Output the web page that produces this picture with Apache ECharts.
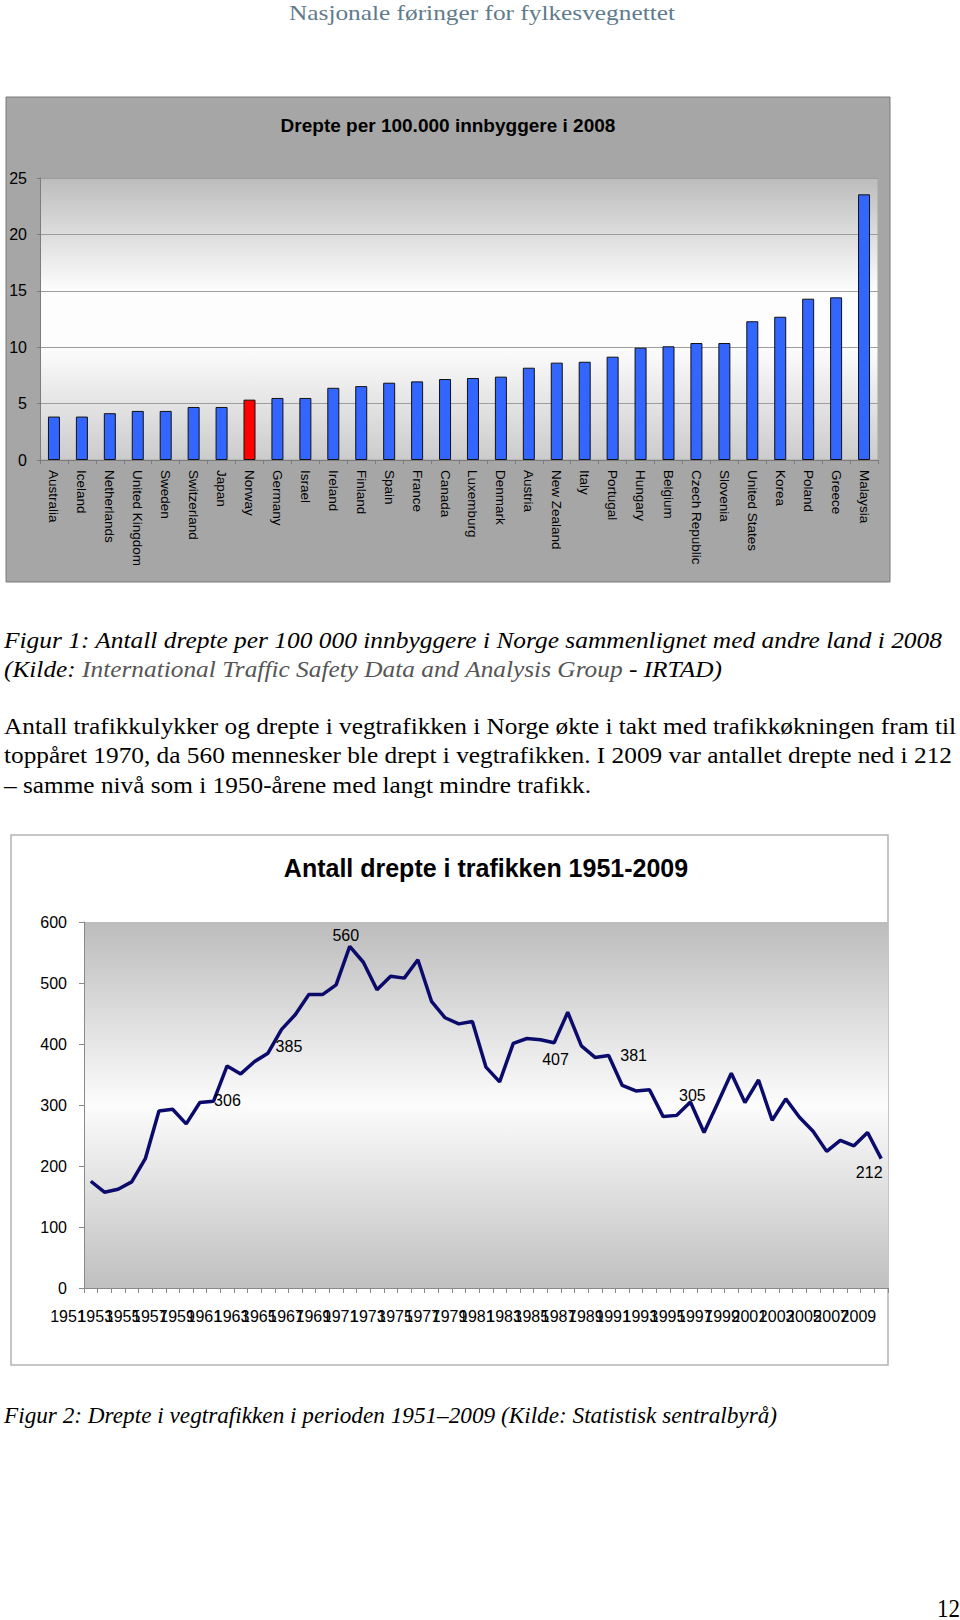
<!DOCTYPE html>
<html>
<head>
<meta charset="utf-8">
<script src="https://cdn.jsdelivr.net/npm/echarts@6/dist/echarts.min.js"></script>
<style>
  html, body { margin: 0; padding: 0; background: #fff; }
  body { position: relative; width: 960px; height: 1620px; overflow: hidden; }
  #chart { position: absolute; left: 0; top: 0; width: 960px; height: 1620px; }
  .t { position: absolute; white-space: nowrap; font-family: "Liberation Serif", "Times New Roman", serif;
       font-size: 24px; line-height: 28px; color: #000; transform-origin: 0 50%; }
  .i { font-style: italic; }
</style>
</head>
<body>
<div id="chart"></div>

<div class="t" data-w="386" style="left:289px; top:-1px; font-size:22px; color:#5f7b8c;">Nasjonale føringer for fylkesvegnettet</div>
<div class="t i" data-w="938" style="left:4px; top:626px;">Figur 1: Antall drepte per 100 000 innbyggere i Norge sammenlignet med andre land i 2008</div>
<div class="t i" data-w="718" style="left:4px; top:655px;">(Kilde: <span style="color:#555;">International Traffic Safety Data and Analysis Group</span> - IRTAD)</div>
<div class="t" data-w="952" style="left:4px; top:712px;">Antall trafikkulykker og drepte i vegtrafikken i Norge økte i takt med trafikkøkningen fram til</div>
<div class="t" data-w="948" style="left:4px; top:741px;">toppåret 1970, da 560 mennesker ble drept i vegtrafikken. I 2009 var antallet drepte ned i 212</div>
<div class="t" data-w="587" style="left:4px; top:771px;">– samme nivå som i 1950-årene med langt mindre trafikk.</div>
<div class="t i" data-w="773" style="left:4px; top:1401px;">Figur 2: Drepte i vegtrafikken i perioden 1951–2009 (Kilde: Statistisk sentralbyrå)</div>
<div class="t" data-w="23" style="left:937px; top:1595px; font-size:26px;">12</div>

<script>
// ---------- Data: chart 1 ----------
const chart1Title = 'Drepte per 100.000 innbyggere i 2008';
const countries = ['Australia','Iceland','Netherlands','United Kingdom','Sweden','Switzerland','Japan','Norway',
  'Germany','Israel','Ireland','Finland','Spain','France','Canada','Luxemburg','Denmark','Austria','New Zealand',
  'Italy','Portugal','Hungary','Belgium','Czech Republic','Slovenia','United States','Korea','Poland','Greece','Malaysia'];
const ratesPer100k = [3.85, 3.85, 4.15, 4.35, 4.35, 4.7, 4.7, 5.35, 5.5, 5.5, 6.4, 6.55, 6.85, 6.97, 7.18, 7.27,
  7.39, 8.18, 8.63, 8.71, 9.16, 9.96, 10.08, 10.37, 10.37, 12.3, 12.7, 14.3, 14.42, 23.55];
const highlightCountry = 'Norway';
const chart1Ticks = [0, 5, 10, 15, 20, 25];

// ---------- Data: chart 2 ----------
const chart2Title = 'Antall drepte i trafikken 1951-2009';
const years = ['1951','1952','1953','1954','1955','1956','1957','1958','1959','1960',
  '1961','1962','1963','1964','1965','1966','1967','1968','1969','1970',
  '1971','1972','1973','1974','1975','1976','1977','1978','1979','1980',
  '1981','1982','1983','1984','1985','1986','1987','1988','1989','1990',
  '1991','1992','1993','1994','1995','1996','1997','1998','1999','2000',
  '2001','2002','2003','2004','2005','2006','2007','2008','2009'];
const killed = [175, 157, 162, 174, 212, 290, 293, 269, 304, 306,
  364, 351, 371, 385, 424, 448, 481, 481, 497, 560,
  534, 489, 511, 508, 538, 470, 443, 433, 437, 362,
  338, 401, 409, 407, 402, 452, 397, 378, 381, 332,
  323, 325, 281, 283, 305, 255, 303, 352, 304, 341,
  275, 310, 280, 257, 224, 242, 233, 255, 212];
const labelledYears = ['1960','1964','1970','1984','1989','1995','2009'];
const chart2Ticks = [0, 100, 200, 300, 400, 500, 600];

// ---------- Styling / layout (not data) ----------
const labelOffsets = {
  '1960': [14, -1], '1964': [21, -7], '1970': [-4, -11], '1984': [15, 20],
  '1989': [25, 0], '1995': [2, -6], '2009': [-12, 14]
};
const SANS = '"Liberation Sans", Arial, Helvetica, sans-serif';
const axisGray = '#7c7c7c';

const grad1 = { type: 'linear', x: 0, y: 0, x2: 0, y2: 1, colorStops: [
  { offset: 0, color: '#bcbcbc' }, { offset: 0.4, color: '#fdfdfd' },
  { offset: 0.6, color: '#fdfdfd' }, { offset: 1, color: '#cbcbcb' } ] };
const grad2 = { type: 'linear', x: 0, y: 0, x2: 0, y2: 1, colorStops: [
  { offset: 0, color: '#bcbcbc' }, { offset: 0.5, color: '#fcfcfc' }, { offset: 1, color: '#bfbfbf' } ] };

const barData = ratesPer100k.map((v, i) => countries[i] === highlightCountry
  ? { value: v, itemStyle: { color: '#ff0000' } } : v);

const lineData = killed.map((v, i) => {
  const y = years[i];
  if (labelledYears.indexOf(y) >= 0) {
    return { value: v, label: { show: true, position: 'inside', offset: labelOffsets[y] } };
  }
  return v;
});

const chart = echarts.init(document.getElementById('chart'), null, { renderer: 'svg', width: 960, height: 1620 });
chart.setOption({
  animation: false,
  textStyle: { fontFamily: SANS },
  graphic: [
    { type: 'rect', z: -10, shape: { x: 6, y: 97, width: 884, height: 485 },
      style: { fill: '#a6a6a6', stroke: '#7a7a7a', lineWidth: 1 } },
    { type: 'text', z: 10, x: 448, y: 125,
      style: { text: chart1Title, fill: '#000', font: 'bold 19px ' + SANS, textAlign: 'center', textVerticalAlign: 'middle' } },
    { type: 'rect', z: -10, shape: { x: 11, y: 835, width: 877, height: 530 },
      style: { fill: '#ffffff', stroke: '#b3b3b3', lineWidth: 1.5 } },
    { type: 'text', z: 10, x: 486, y: 868,
      style: { text: chart2Title, fill: '#000', font: 'bold 25px ' + SANS, textAlign: 'center', textVerticalAlign: 'middle' } }
  ],
  grid: [
    { left: 40, top: 178, width: 838, height: 282, show: true, backgroundColor: grad1,
      borderColor: '#a5a5a5', borderWidth: 1, containLabel: false, outerBoundsMode: 'none' },
    { left: 84, top: 922, width: 804, height: 366, show: true, backgroundColor: grad2,
      borderWidth: 0, containLabel: false, outerBoundsMode: 'none' }
  ],
  xAxis: [
    { gridIndex: 0, type: 'category', data: countries, boundaryGap: true,
      axisLine: { show: true, lineStyle: { color: axisGray, width: 1 } },
      axisTick: { show: true, interval: 0, alignWithLabel: false, length: 4, lineStyle: { color: axisGray } },
      axisLabel: { interval: 0, rotate: -90, fontSize: 13.5, color: '#000', margin: 10, fontFamily: SANS,
        showMinLabel: true, showMaxLabel: true, hideOverlap: false },
      splitLine: { show: false } },
    { gridIndex: 1, type: 'category', data: years, boundaryGap: true,
      axisLine: { show: true, lineStyle: { color: '#8a8a8a', width: 1 } },
      axisTick: { show: true, interval: 0, alignWithLabel: false, length: 5, lineStyle: { color: '#8a8a8a' } },
      axisLabel: { interval: 0, fontSize: 16, color: '#000', margin: 20, align: 'right',
        formatter: (val, idx) => (idx % 2 === 0 ? val : ''),
        padding: [0, 5, 0, 0], hideOverlap: false, showMinLabel: true, showMaxLabel: true, fontFamily: SANS },
      splitLine: { show: false } }
  ],
  yAxis: [
    { gridIndex: 0, type: 'value', min: chart1Ticks[0], max: chart1Ticks[chart1Ticks.length - 1], interval: 5,
      axisLine: { show: true, lineStyle: { color: axisGray, width: 1 } },
      axisTick: { show: true, length: 3, lineStyle: { color: axisGray } },
      axisLabel: { fontSize: 16, color: '#000', margin: 13, fontFamily: SANS, showMinLabel: true, showMaxLabel: true },
      splitLine: { show: true, lineStyle: { color: '#9d9d9d', width: 1 } } },
    { gridIndex: 1, type: 'value', min: chart2Ticks[0], max: chart2Ticks[chart2Ticks.length - 1], interval: 100,
      axisLine: { show: true, lineStyle: { color: '#8a8a8a', width: 1 } },
      axisTick: { show: true, length: 5, lineStyle: { color: '#8a8a8a' } },
      axisLabel: { fontSize: 16, color: '#000', margin: 17, fontFamily: SANS, showMinLabel: true, showMaxLabel: true },
      splitLine: { show: false } }
  ],
  series: [
    { type: 'bar', xAxisIndex: 0, yAxisIndex: 0, data: barData, barWidth: 12,
      itemStyle: { color: '#3366ff', borderColor: '#111111', borderWidth: 1 } },
    { type: 'line', xAxisIndex: 1, yAxisIndex: 1, data: lineData,
      showSymbol: true, symbol: 'circle', symbolSize: 4,
      itemStyle: { color: 'rgba(0,0,0,0)', borderWidth: 0 },
      lineStyle: { color: '#0b0b6b', width: 3.5 },
      label: { show: false, color: '#000', fontSize: 16, fontFamily: SANS },
      emphasis: { disabled: true } }
  ]
});

// fit serif text lines horizontally to their widths in the reference
document.querySelectorAll('.t[data-w]').forEach(el => {
  const target = parseFloat(el.getAttribute('data-w'));
  const natural = el.getBoundingClientRect().width;
  if (natural > 0) el.style.transform = 'scaleX(' + (target / natural).toFixed(4) + ')';
});
</script>
</body>
</html>
